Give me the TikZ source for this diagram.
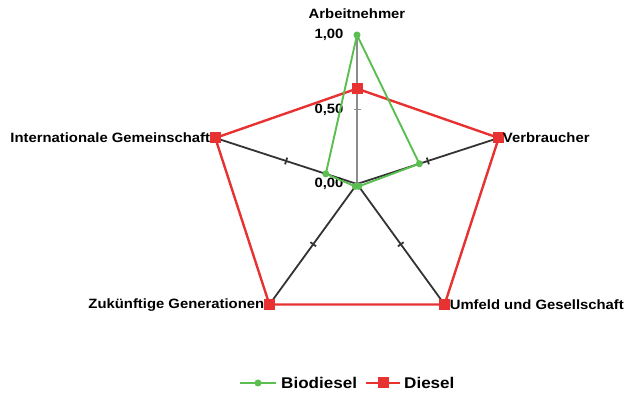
\documentclass[tikz,border=0pt]{standalone}
\usepackage{fontspec}
\setmainfont{Liberation Sans}[FakeStretch=1.1]
\definecolor{dieselred}{RGB}{232,50,50}
\definecolor{biogreen}{RGB}{90,190,80}
\begin{document}
\begin{tikzpicture}[x=1pt,y=1pt,font=\bfseries\fontsize{13.5}{15}\selectfont,
  axis/.style={line width=1.8pt},
  diesel/.style={dieselred,line width=2.4pt},
  bio/.style={biogreen,line width=1.9pt},
  dsq/.style={fill=dieselred,minimum size=11pt,inner sep=0pt},
  bdot/.style={circle,fill=biogreen,minimum size=7pt,inner sep=0pt}]
\useasboundingbox (0,0) rectangle (626,395) ;
\begin{scope}[shift={(357,211)}]
\coordinate (c) at (0,0) ;
\foreach \a/\n/\col in {90/an/black!45,18/vb/black!80,-54/ug/black!80,-126/zg/black!80,162/ig/black!80} {
  \coordinate (\n) at (\a:149) ;
  \draw[axis,\col] (c) -- (\n) ;
  \draw[axis,\col] (\a:74.5) ++(\a+90:3.5) -- ++(\a-90:7) ;
}
\draw[axis,black!45] (c) ++(-3.5,0) -- ++(7,0) ;
\foreach \a/\v/\n in {90/.64/d1,18/1/d2,-54/1/d3,-126/1/d4,162/1/d5}
  \coordinate (\n) at (\a:{\v*149}) ;
\foreach \a/\v/\n in {90/1/b1,18/.44/b2,-54/.02/b3,-126/.02/b4,162/.22/b5}
  \coordinate (\n) at (\a:{\v*149}) ;
\foreach \y/\l in {149/1,{74.5}/0,0/0}
  \node[anchor=east] (t\y) at (-10,\y) {\l,\ifnum\l=1 0\else\ifdim\y pt>1pt 5\else 0\fi\fi 0} ;
\end{scope}
\draw[diesel] (d1) -- (d2) -- (d3) -- (d4) -- (d5) -- cycle ;
\draw[bio] (b1) -- (b2) -- (b3) -- (b4) -- (b5) -- cycle ;
\foreach \i in {1,...,5}
  \node[dsq] (md\i) at (d\i) {} ;
\foreach \i in {1,...,5}
  \node[bdot] (mb\i) at (b\i) {} ;
\node[anchor=south] (lan) at ([yshift=13pt]an) {Arbeitnehmer} ;
\node[anchor=west,inner sep=1pt] (lvb) at ([xshift=3pt]vb) {Verbraucher} ;
\node[anchor=west,inner sep=1pt] (lug) at ([xshift=4pt]ug) {Umfeld und Gesellschaft} ;
\node[anchor=east,inner sep=1pt] (lzg) at ([xshift=-4pt]zg) {Zukünftige Generationen} ;
\node[anchor=east,inner sep=1pt] (lig) at ([xshift=-4pt]ig) {Internationale Gemeinschaft} ;
\coordinate (g1) at (240,12) ;
\coordinate (g2) at (276,12) ;
\coordinate (r1) at (366,12) ;
\coordinate (r2) at (400,12) ;
\draw[bio] (g1) -- (g2) ;
\node[bdot] (lgb) at (258,12) {} ;
\node[anchor=west,inner sep=1pt,font=\bfseries\fontsize{15.5}{17}\selectfont] (lbio) at (280,12) {Biodiesel} ;
\draw[diesel] (r1) -- (r2) ;
\node[dsq] (lgd) at (383,12) {} ;
\node[anchor=west,inner sep=1pt,font=\bfseries\fontsize{15.5}{17}\selectfont] (ldie) at (403,12) {Diesel} ;
\end{tikzpicture}
\end{document}
